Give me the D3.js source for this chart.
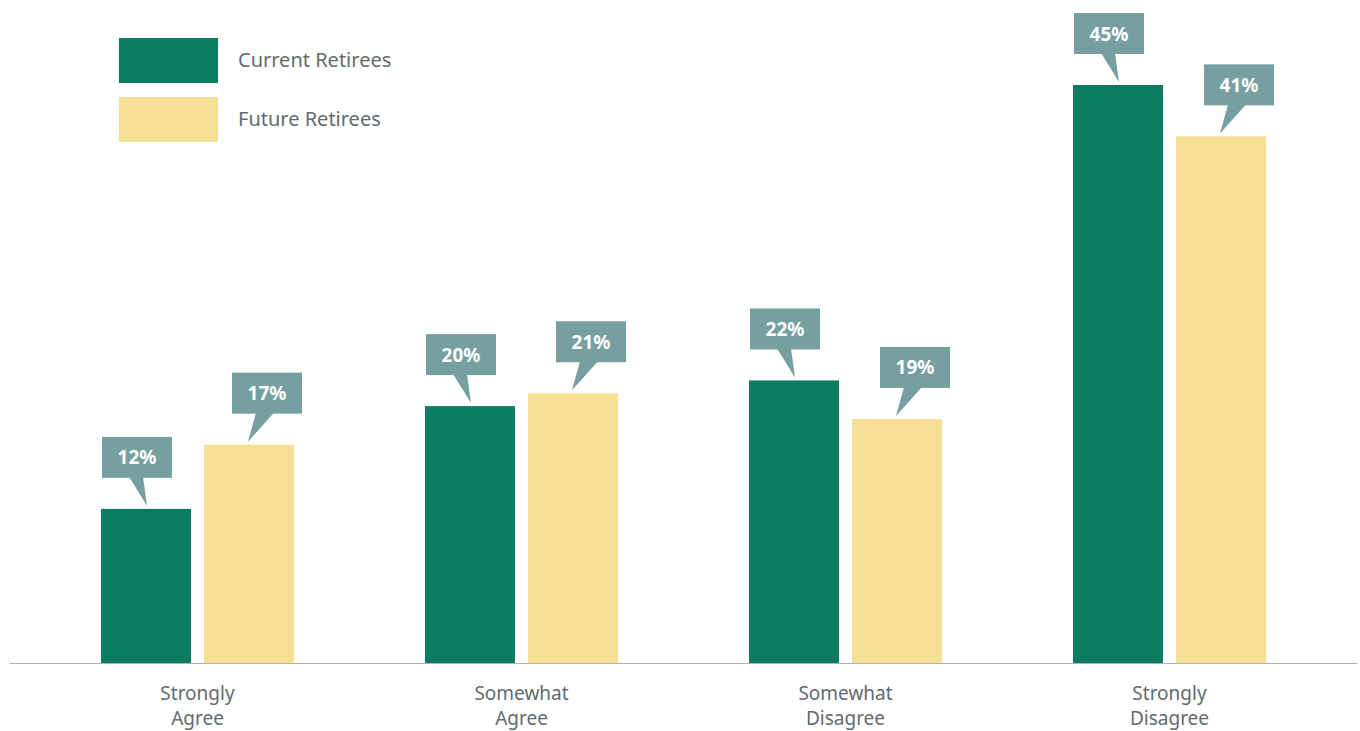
<!DOCTYPE html>
<html>
<head>
<meta charset="utf-8">
<script src="https://cdn.jsdelivr.net/npm/d3@7"></script>
<style>
  html, body { margin: 0; padding: 0; background: #fff; }
  svg { display: block; font-family: "Noto Sans", "Open Sans", sans-serif; }
</style>
</head>
<body>
<svg id="chart" width="1360" height="731"></svg>
<script>
// Survey answers by group
const categories = [["Strongly", "Agree"], ["Somewhat", "Agree"], ["Somewhat", "Disagree"], ["Strongly", "Disagree"]];
const seriesNames = ["Current Retirees", "Future Retirees"];
const currentRetirees = [12, 20, 22, 45];
const futureRetirees = [17, 21, 19, 41];

const colors = { "Current Retirees": "#0b7b61", "Future Retirees": "#f7e096" };
const calloutFill = "#76a09f";
const textColor = "#636a70";

const svg = d3.select("#chart");
const baseline = 663;
const pairWidth = 193;

const x0 = d3.scaleBand()
  .domain(d3.range(categories.length))
  .range([35.5, 1331.5])
  .paddingInner(0)
  .paddingOuter(0);

const x1 = d3.scaleBand()
  .domain(seriesNames)
  .range([0, pairWidth])
  .paddingInner(13 / 103);

const y = d3.scaleLinear().domain([0, 45]).range([baseline, 85]);

const rows = categories.map((c, i) => ({
  i,
  label: c,
  values: [
    { key: seriesNames[0], v: currentRetirees[i] },
    { key: seriesNames[1], v: futureRetirees[i] }
  ]
}));

// offset so each bar pair is centred in its band
const groupOffset = (x0.bandwidth() - pairWidth) / 2;

// baseline
svg.append("line")
  .attr("x1", 10).attr("x2", 1357)
  .attr("y1", baseline + 0.5).attr("y2", baseline + 0.5)
  .attr("stroke", "#aeb2b6").attr("stroke-width", 1.2);

const groups = svg.selectAll("g.grp")
  .data(rows).enter().append("g")
  .attr("class", "grp")
  .attr("transform", d => `translate(${x0(d.i) + groupOffset},0)`);

groups.selectAll("rect.bar")
  .data(d => d.values).enter().append("rect")
  .attr("class", "bar")
  .attr("x", d => x1(d.key))
  .attr("width", x1.bandwidth())
  .attr("y", d => y(d.v))
  .attr("height", d => baseline - y(d.v))
  .attr("fill", d => colors[d.key]);

// value callouts with pointer
const cw = 70, ch = 41, gap = 31;
groups.selectAll("g.callout")
  .data(d => d.values).enter().append("g")
  .attr("class", "callout")
  .each(function (d, j) {
    const g = d3.select(this);
    const cx = x1(d.key) + x1.bandwidth() / 2;
    const top = y(d.v);
    const left = j === 0 ? cx - 44 : cx - 17;
    const bottom = top - gap;
    const rectTop = bottom - ch;
    const tipY = top - 3;
    let pts;
    if (j === 0) {
      pts = [[left + 27, bottom - 1], [left + 41, bottom - 1], [cx + 1, tipY]];
    } else {
      pts = [[left + 24, bottom - 1], [left + 42, bottom - 1], [cx - 1, tipY]];
    }
    g.append("rect")
      .attr("x", left).attr("y", rectTop)
      .attr("width", cw).attr("height", ch)
      .attr("fill", calloutFill);
    g.append("path")
      .attr("d", d3.line()(pts) + "Z")
      .attr("fill", calloutFill);
    g.append("text")
      .attr("x", left + cw / 2)
      .attr("y", rectTop + ch / 2 + 7)
      .attr("text-anchor", "middle")
      .attr("fill", "#fff")
      .attr("font-size", 19)
      .attr("font-weight", "bold")
      .text(d.v + "%");
  });

// category labels
groups.append("text")
  .attr("x", pairWidth / 2)
  .attr("text-anchor", "middle")
  .attr("fill", textColor)
  .attr("font-size", 19)
  .selectAll("tspan")
  .data(d => d.label).enter().append("tspan")
  .attr("x", pairWidth / 2)
  .attr("y", (d, k) => 700 + k * 25)
  .text(d => d);

// legend
const legend = svg.append("g").selectAll("g")
  .data(seriesNames).enter().append("g")
  .attr("transform", (d, i) => `translate(119,${38 + i * 59})`);
legend.append("rect")
  .attr("width", 99).attr("height", 45)
  .attr("fill", d => colors[d]);
legend.append("text")
  .attr("x", 119).attr("y", 29)
  .attr("fill", textColor)
  .attr("font-size", 20)
  .text(d => d);
</script>
</body>
</html>
